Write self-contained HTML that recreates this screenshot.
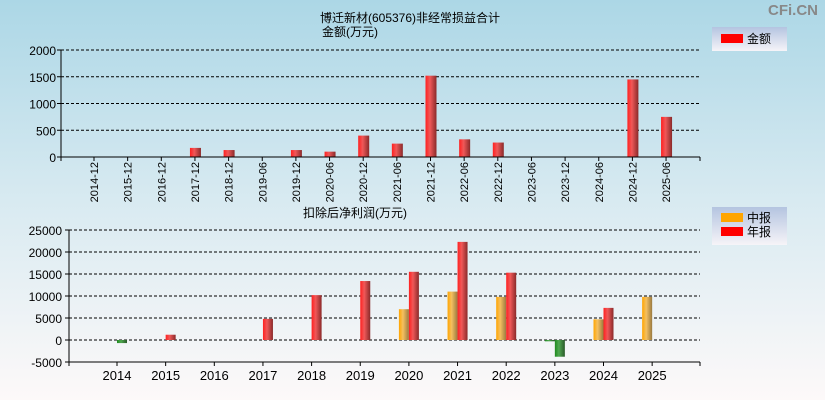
<!DOCTYPE html>
<html><head><meta charset="utf-8"><style>
html,body{margin:0;padding:0;}
body{width:825px;height:400px;overflow:hidden;font-family:"Liberation Sans","Noto Sans CJK SC",sans-serif;}
</style></head><body>
<svg id="c" width="825" height="400" xmlns="http://www.w3.org/2000/svg" font-family="Liberation Sans, Noto Sans CJK SC, sans-serif">
<defs>
<linearGradient id="bg" x1="0" y1="0" x2="0" y2="1"><stop offset="0" stop-color="#acd7e6"/><stop offset="0.5" stop-color="#d8eaf1"/><stop offset="1" stop-color="#fdf9f9"/></linearGradient>
<linearGradient id="red" x1="0" y1="0" x2="1" y2="0"><stop offset="0" stop-color="#ff2020"/><stop offset="0.4" stop-color="#f05858"/><stop offset="1" stop-color="#8a2a2a"/></linearGradient>
<linearGradient id="org" x1="0" y1="0" x2="1" y2="0"><stop offset="0" stop-color="#ffa500"/><stop offset="0.4" stop-color="#f5c060"/><stop offset="1" stop-color="#9a7a40"/></linearGradient>
<linearGradient id="grn" x1="0" y1="0" x2="1" y2="0"><stop offset="0" stop-color="#1e8a1e"/><stop offset="0.4" stop-color="#50a850"/><stop offset="1" stop-color="#2a5a2a"/></linearGradient>
<linearGradient id="lg" x1="0" y1="0" x2="0" y2="1"><stop offset="0" stop-color="#b4c4e0"/><stop offset="1" stop-color="#f6f4f8"/></linearGradient>
</defs>
<rect width="825" height="400" fill="url(#bg)"/>
<text x="793" y="15" font-size="15" fill="#888" text-anchor="middle" font-weight="bold">CFi.CN</text>
<text x="410" y="22" font-size="12" text-anchor="middle">博迁新材(605376)非经常损益合计</text>
<text x="350" y="36" font-size="12" text-anchor="middle">金额(万元)</text>
<g>
<rect x="712" y="27" width="75" height="24" fill="url(#lg)"/>
<rect x="721" y="34" width="22" height="9" fill="#f00"/>
<text x="747" y="43" font-size="12">金额</text>
</g>
<text x="355" y="217" font-size="12" text-anchor="middle">扣除后净利润(万元)</text>
<g>
<rect x="712" y="207" width="75" height="38" fill="url(#lg)"/>
<rect x="721" y="213" width="22" height="9" fill="#ffa500"/>
<text x="747" y="222" font-size="12">中报</text>
<rect x="721" y="227" width="22" height="9" fill="#f00"/>
<text x="747" y="236" font-size="12">年报</text>
</g>
<g id="top"></g><g id="bot"></g>
</svg>
<script>
const topCats=["2014-12","2015-12","2016-12","2017-12","2018-12","2019-06","2019-12","2020-06","2020-12","2021-06","2021-12","2022-06","2022-12","2023-06","2023-12","2024-06","2024-12","2025-06"];
const topVals=[0,0,0,170,130,0,130,100,400,250,1520,330,270,0,0,0,1450,750];
const topTicks=[0,500,1000,1500,2000];
const botYears=["2014","2015","2016","2017","2018","2019","2020","2021","2022","2023","2024","2025"];
const botMid=[null,null,null,null,null,null,7000,11000,9800,-300,4700,9800];
const botAnnual=[-700,1200,0,4800,10200,13400,15500,22300,15300,-3800,7300,null];
const botTicks=[-5000,0,5000,10000,15000,20000,25000];
const NS="http://www.w3.org/2000/svg";
function mk(p,t,a){const e=document.createElementNS(NS,t);for(const k in a)e.setAttribute(k,a[k]);p.appendChild(e);return e;}
// top chart
const T=document.getElementById('top');
const tx=i=>94+i*33.65, ty=v=>157-v*107/2000;
topTicks.forEach(v=>{
 if(v>0){const l=mk(T,'line',{x1:61,x2:700,y1:ty(v),y2:ty(v),stroke:'#000','stroke-dasharray':'3,2'});}
 const t=mk(T,'text',{x:56,y:ty(v)+5,'font-size':12,'text-anchor':'end'});t.textContent=v;
 
 mk(T,'line',{x1:57,x2:61,y1:ty(v),y2:ty(v),stroke:'#000'});
});
topCats.forEach((c,i)=>{
 const v=topVals[i];
 if(v>0){const r=mk(T,'rect',{x:tx(i)-5,y:ty(v),width:11,height:ty(0)-ty(v),fill:'url(#red)'});}
 const t=mk(T,'text',{transform:`translate(${tx(i)+4},162) rotate(-90)`,'font-size':11,'text-anchor':'end'});t.textContent=c;
 
 mk(T,'line',{x1:tx(i),x2:tx(i),y1:157,y2:161,stroke:'#000'});
});
mk(T,'line',{x1:61,x2:61,y1:50,y2:161,stroke:'#000'});
mk(T,'line',{x1:61,x2:700,y1:157,y2:157,stroke:'#000'});
mk(T,'line',{x1:700,x2:700,y1:157,y2:161,stroke:'#000'});
// bottom chart
const B=document.getElementById('bot');
const bx=i=>117+i*48.65, by=v=>340-v*22/5000;
botTicks.forEach(v=>{
 if(v>=0){const l=mk(B,'line',{x1:69,x2:700,y1:by(v),y2:by(v),stroke:'#000','stroke-dasharray':'3,2'});}
 const t=mk(B,'text',{x:62,y:by(v)+5,'font-size':12,'text-anchor':'end'});t.textContent=v;
 
 mk(B,'line',{x1:65,x2:69,y1:by(v),y2:by(v),stroke:'#000'});
});
function bar(x,v,fill,name){
 if(v===null||v===0)return;
 const y0=Math.min(by(v),by(0)),h=Math.abs(by(v)-by(0));
 const r=mk(B,'rect',{x:x,y:y0,width:10,height:Math.max(h,1),fill:v<0?'url(#grn)':fill});
 
}
botYears.forEach((y,i)=>{
 bar(bx(i)-10,botMid[i],'url(#org)','mid-bar');
 bar(bx(i),botAnnual[i],'url(#red)','annual-bar');
 const t=mk(B,'text',{x:bx(i),y:380,'font-size':13,'text-anchor':'middle'});t.textContent=y;
 
 mk(B,'line',{x1:bx(i),x2:bx(i),y1:362,y2:366,stroke:'#000'});
});
mk(B,'line',{x1:69,x2:69,y1:230,y2:366,stroke:'#000'});
mk(B,'line',{x1:69,x2:700,y1:362,y2:362,stroke:'#000'});
mk(B,'line',{x1:700,x2:700,y1:362,y2:366,stroke:'#000'});
</script>
</body></html>
